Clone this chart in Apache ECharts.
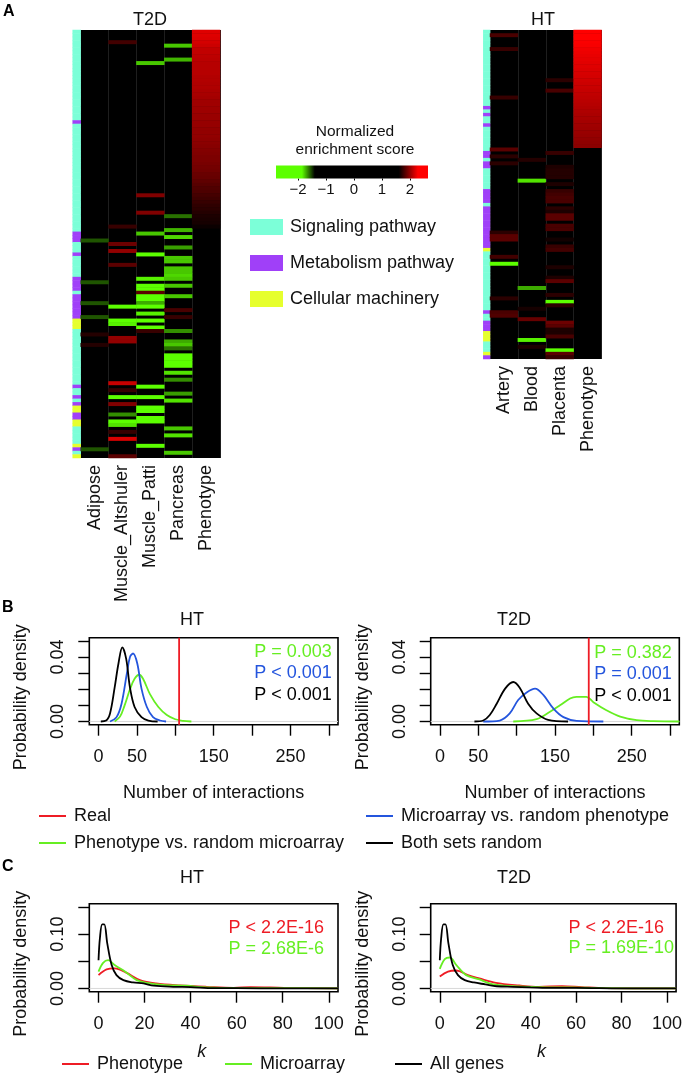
<!DOCTYPE html>
<html><head><meta charset="utf-8">
<style>html,body{margin:0;padding:0;background:#fff}#c{width:685px;height:1076px}</style>
<script src="https://cdn.jsdelivr.net/npm/echarts@6/dist/echarts.min.js"></script>
</head><body><div id="c"></div>
<script>
// ---------- Heatmap data: [row, normalized enrichment score] ----------
const t2dColumns = ['Adipose','Muscle_Altshuler','Muscle_Patti','Pancreas','Phenotype'];
const htColumns = ['Artery','Blood','Placenta','Phenotype'];
const t2dAdipose = [[60,-1.55],[72,-1.55],[78,-1.55],[82,-1.55],[87,1.7],[90,1.7],[120,-1.55]];
const t2dAltshuler = [[3,1.78],[56,1.75],[61,1.9],[63,2.0],[67,1.85],[79,-1.95],[83,-2.1],[84,-1.85],[88,2.0],[89,2.0],[101,2.15],[103,1.75],[105,-1.95],[107,1.95],[110,-1.65],[112,-1.95],[113,-1.8],[115,1.75],[117,2.2],[122,1.85]];
const t2dPatti = [[9,-1.75],[47,1.95],[52,1.95],[58,-1.75],[64,-1.9],[71,-1.85],[73,-2.2],[74,-2.2],[75,1.85],[76,-1.9],[77,-2.2],[78,-1.7],[79,-2.1],[81,-1.85],[83,-1.95],[85,-1.95],[86,1.75],[102,-1.9],[105,-1.95],[108,-2.25],[109,-2.25],[111,-2.2],[112,-2.2],[119,-1.9]];
const t2dPancreas = [[4,-1.75],[8,-1.72],[53,-1.6],[57,-1.72],[59,-1.78],[62,-1.68],[65,-1.75],[66,-1.75],[68,-1.75],[69,-1.75],[70,-1.78],[71,-1.75],[73,-1.75],[76,-1.75],[80,1.8],[82,1.75],[86,-1.65],[89,-1.7],[90,-1.75],[91,-1.6],[93,-2.0],[94,-2.2],[95,-2.2],[96,-2.2],[98,-1.8],[100,-1.65],[104,-1.68],[106,-1.8],[114,-1.75],[116,-1.8],[121,-1.75]];
const t2dPhenotype = [2.21,2.21,2.2,2.18,2.16,2.13,2.13,2.12,2.11,2.1,2.1,2.1,2.1,2.09,2.09,2.08,2.08,2.07,2.06,2.05,2.04,2.04,2.03,2.03,2.02,2.02,2.01,2.01,2.0,2.0,2.0,1.99,1.98,1.97,1.96,1.95,1.94,1.94,1.93,1.92,1.91,1.89,1.88,1.86,1.84,1.82,1.81,1.79,1.77,1.75,1.73,1.72,1.7,1.68,1.67,1.66,1.63];
const htArtery = [[1,1.8],[5,1.75],[19,1.75],[34,1.85],[36,1.72],[38,1.72],[58,1.72],[59,1.85],[60,1.85],[65,1.78],[67,-2.05],[77,1.72],[81,1.8],[82,1.82]];
const htBlood = [[37,1.7],[43,-1.8],[74,-1.7],[80,1.66],[83,1.88],[89,-1.85],[91,1.68]];
const htPlacenta = [[14,1.72],[17,1.8],[35,1.75],[39,1.68],[40,1.7],[41,1.7],[42,1.7],[44,1.68],[46,1.75],[47,1.78],[48,1.8],[49,1.8],[51,1.72],[52,1.68],[53,1.85],[54,1.85],[56,1.8],[57,1.8],[60,1.65],[62,1.75],[63,1.78],[68,1.68],[71,1.68],[72,1.85],[76,1.72],[78,-2.1],[79,1.72],[84,1.9],[85,1.85],[86,1.68],[87,1.68],[88,1.8],[92,-2.05],[93,1.85],[94,1.75]];
const htPhenotype = [2.3,2.3,2.3,2.29,2.28,2.26,2.25,2.24,2.23,2.22,2.21,2.2,2.19,2.18,2.17,2.16,2.15,2.14,2.13,2.12,2.11,2.1,2.09,2.08,2.07,2.06,2.05,2.04,2.03,2.02,2.01,2.0,1.99,1.98];
// Row classes as [class, number of rows]: 0 signaling, 1 metabolism, 2 cellular machinery
const t2dClassRuns = [[0,26],[1,1],[0,31],[1,3],[0,3],[1,1],[0,6],[1,4],[0,1],[1,7],[2,3],[0,16],[1,1],[0,2],[1,1],[0,1],[1,1],[2,2],[1,2],[2,2],[0,5],[2,1],[1,1],[0,1],[2,1]];
const htClassRuns = [[0,22],[1,1],[0,1],[1,1],[0,2],[1,1],[0,7],[1,2],[0,1],[1,2],[0,6],[1,4],[0,1],[1,12],[2,1],[0,17],[1,1],[0,2],[1,3],[2,3],[0,3],[2,1],[1,1]];
const t2dRowCount = 123, htRowCount = 95;
const classNames = ['Signaling pathway','Metabolism pathway','Cellular machinery'];
const scaleTicks = [-2,-1,0,1,2];

// ---------- Panel B: [interactions, density] ----------
const bHtBlack = [[3,0],[10,.0006],[15,.005],[21,.021],[26,.036],[31,.046],[36,.039],[41,.021],[47,.009],[56,.0027],[65,.0006],[77,0]];
const bHtBlue = [[15,0],[23.5,.0027],[30,.011],[37,.03],[41,.04],[45,.0422],[50.5,.036],[56,.0204],[63,.009],[71,.0027],[80,.0006],[88,0]];
const bHtGreen = [[21,0],[28,.003],[34,.01],[41,.02],[47,.0265],[53,.029],[58,.0265],[67,.017],[78,.009],[89,.004],[100,.0014],[110,.0004],[121,0]];
const bHtReal = 105;
const bT2dBlack = [[45,0],[56.5,.0006],[65,.004],[74,.011],[85,.0204],[95.6,.0245],[104,.021],[115,.011],[126,.005],[141,.001],[167,0]];
const bT2dBlue = [[56.5,0],[78,.0006],[91,.005],[102,.0133],[113,.018],[124,.0204],[135,.0163],[148,.008],[161,.0027],[178,.0004],[213,0]];
const bT2dGreen = [[95.6,0],[126,.0014],[143.5,.006],[156.5,.01],[169.6,.0143],[178,.0153],[191,.0153],[200,.012],[217,.007],[235,.003],[256.5,.0008],[278,.0002],[312,0]];
const bT2dReal = 194;
const bXTicks = [0,50,100,150,200,250,300], bXLabels = [0,50,150,250];
const bYTicks = [0,.01,.02,.03,.04,.05], bYLabels = [0,.04];

// ---------- Panel C: [k, density] ----------
const cHtBlack = [[0,.052],[.6,.092],[1.6,.118],[2.5,.118],[3.8,.083],[5.7,.043],[7.8,.0245],[10.8,.0153],[15,.011],[19.5,.0092],[24,.005],[32.5,.003],[40,.0025],[50,.0006],[60,.0006],[80.5,0],[104,0]];
const cHtGreen = [[0,.031],[2,.047],[4.2,.052],[7,.043],[11.5,.031],[16.6,.0153],[21,.0104],[28,.0067],[38,.005],[47,.0018],[60,.0006],[80,.0006],[104,0]];
const cHtRed = [[0,.0245],[3.5,.035],[7,.037],[12,.029],[18,.0153],[25,.0092],[35.5,.0055],[47,.003],[58.7,.0012],[66,.0025],[80.5,.0012],[104,0]];
const cT2dBlack = [[0,.052],[.6,.092],[1.6,.118],[2.5,.118],[3.8,.083],[5.7,.043],[8,.0245],[11,.0153],[15,.011],[20,.0075],[25,.004],[32,.003],[40,.002],[50,.001],[60,.001],[80,0],[104,0]];
const cT2dGreen = [[0,.036],[2.2,.054],[4.4,.057],[7.3,.043],[11.6,.0245],[17.4,.0166],[23,.008],[32,.0043],[43.6,.0025],[58,.0018],[72.7,.0006],[104,0]];
const cT2dRed = [[0,.022],[3.6,.031],[7.3,.033],[12.4,.0245],[17.4,.0184],[24.7,.0104],[35,.0055],[43.6,.003],[53.8,.0043],[62.5,.0025],[72.7,.0006],[104,0]];
const cXTicks = [0,20,40,60,80,100];
const cYTicks = [0,.05,.1,.15], cYLabels = [0,.1];

// ---------- Styles ----------
const FONT = '"Liberation Sans", Arial, sans-serif', INK = '#111';
const RED = '#EE1C25', GREEN = '#66EE22', BLUE = '#2455DD', BLACK = '#000';
const CLASS_COLORS = ['#7CFFD8','#A040F8','#E6FF2E'];
const GREEN_RGB = [92,255,0], RED_RGB = [255,0,0];
function rampColor(v){
  let c=[0,0,0];
  if(v<=-1.85) c=GREEN_RGB;
  else if(v<-1.4){const t=(-1.4-v)/.45;c=GREEN_RGB.map(x=>x*t);}
  else if(v>=2.3) c=RED_RGB;
  else if(v>1.6){const t=(v-1.6)/.7;c=RED_RGB.map(x=>x*t);}
  return 'rgb('+c.map(Math.round).join(',')+')';
}
const RAMP_MIN=-2.8, RAMP_MAX=2.8;
const ramp=[]; for(let i=0;i<=56;i++) ramp.push(rampColor(RAMP_MIN+i*.1));

const expandRuns = runs => runs.flatMap(([c,n])=>Array(n).fill(c));
const rowNames = n => Array.from({length:n},(_,i)=>String(i));
const grid=[], xAxis=[], yAxis=[], series=[], heatIdx=[], classIdx=[];

function addHeat(left,annW,colsW,height,columns,colData,runs,rowCount){
  // class strip
  let g=grid.length;
  grid.push({left:left,top:30,width:annW,height:height,show:false});
  xAxis.push({type:'category',gridIndex:g,data:['class'],show:false});
  yAxis.push({type:'category',gridIndex:g,data:rowNames(rowCount),inverse:true,show:false});
  classIdx.push(series.length);
  series.push({type:'heatmap',xAxisIndex:g,yAxisIndex:g,silent:true,progressive:0,
    data:expandRuns(runs).map((c,r)=>[0,r,c])});
  // matrix
  g=grid.length;
  grid.push({left:left+annW,top:30,width:colsW,height:height,show:true,backgroundColor:'#000',borderWidth:0});
  xAxis.push({type:'category',gridIndex:g,data:columns,axisLine:{show:false},axisTick:{show:false},
    splitLine:{show:true,interval:0,lineStyle:{color:'#1e1e1e',width:1}},
    axisLabel:{interval:0,rotate:90,fontFamily:FONT,fontSize:18,color:INK,margin:7}});
  yAxis.push({type:'category',gridIndex:g,data:rowNames(rowCount),inverse:true,show:false});
  const d=[];
  colData.forEach((col,ci)=>col.forEach(([r,v])=>d.push([ci,r,v])));
  heatIdx.push(series.length);
  series.push({type:'heatmap',xAxisIndex:g,yAxisIndex:g,silent:true,progressive:0,data:d});
}
const withRows = vals => vals.map((v,i)=>[i,v]);
addHeat(72.7,8,139.3,428,t2dColumns,[t2dAdipose,t2dAltshuler,t2dPatti,t2dPancreas,withRows(t2dPhenotype)],t2dClassRuns,t2dRowCount);
addHeat(483.3,6.7,111.5,329,htColumns,[htArtery,htBlood,htPlacenta,withRows(htPhenotype)],htClassRuns,htRowCount);

// colour scale
{
  const g=grid.length;
  grid.push({left:276,top:165.5,width:152,height:13,show:false});
  xAxis.push({type:'value',gridIndex:g,min:-2.786,max:2.643,splitLine:{show:false},axisLine:{show:false,onZero:false},
    axisTick:{show:true,customValues:scaleTicks,length:2,lineStyle:{color:'#000',width:1}},
    axisLabel:{customValues:scaleTicks,fontFamily:FONT,fontSize:15,color:INK,margin:4,formatter:v=>String(v).replace('-','\u2212')}});
  yAxis.push({type:'value',gridIndex:g,min:0,max:1,show:false});
  const x=v=>(v+2.786)/5.429;
  series.push({type:'custom',xAxisIndex:g,yAxisIndex:g,silent:true,data:[[-2.786,2.643]],
    renderItem:(p,api)=>{
      const a=api.coord([api.value(0),1]), b=api.coord([api.value(1),0]);
      return {type:'rect',shape:{x:a[0],y:a[1],width:b[0]-a[0],height:b[1]-a[1]},
        style:{fill:{type:'linear',x:0,y:0,x2:1,y2:0,colorStops:[
          {offset:0,color:'#5CFF00'},{offset:x(-1.86),color:'#5CFF00'},{offset:x(-1.4),color:'#000'},
          {offset:x(1.6),color:'#000'},{offset:x(2.28),color:'#FF0000'},{offset:1,color:'#FF0000'}]}}};
    },encode:{x:[0,1]}});
}

function addDensity(box,xCfg,yCfg,xName,namePad,lines){
  const g=grid.length;
  grid.push({left:box[0],top:box[1],width:box[2],height:box[3],show:true,borderColor:'#000',borderWidth:1.6,backgroundColor:'transparent'});
  xAxis.push({type:'value',gridIndex:g,min:xCfg.min,max:xCfg.max,splitLine:{show:false},axisLine:{show:false,onZero:false},
    axisTick:{show:true,customValues:xCfg.ticks,length:11,lineStyle:{color:'#000',width:1.4}},
    axisLabel:{customValues:xCfg.labels,fontFamily:FONT,fontSize:18,color:INK,margin:xCfg.margin,hideOverlap:false,showMinLabel:true,showMaxLabel:true},
    name:xName,nameLocation:'middle',nameGap:xCfg.nameGap,nameMoveOverlap:false,
    nameTextStyle:{fontFamily:FONT,fontSize:18,color:INK,fontStyle:xCfg.nameItalic?'italic':'normal',padding:namePad}});
  yAxis.push({type:'value',gridIndex:g,min:yCfg.min,max:yCfg.max,splitLine:{show:false},axisLine:{show:false,onZero:false},
    axisTick:{show:true,customValues:yCfg.ticks,length:11,lineStyle:{color:'#000',width:1.4}},
    axisLabel:{customValues:yCfg.labels,rotate:90,fontFamily:FONT,fontSize:18,color:INK,margin:22,formatter:v=>v.toFixed(2)},
    name:'Probability density',nameLocation:'middle',nameGap:59,nameMoveOverlap:false,
    nameTextStyle:{fontFamily:FONT,fontSize:18,color:INK,padding:yCfg.namePad}});
  // zero line
  series.push({type:'line',xAxisIndex:g,yAxisIndex:g,silent:true,symbol:'none',data:[[xCfg.min,0],[xCfg.max,0]],
    lineStyle:{color:'#d8d8d8',width:1},z:1});
  lines.forEach(l=>series.push({name:l.name,type:'line',xAxisIndex:g,yAxisIndex:g,silent:true,symbol:'none',
    smooth:l.straight?false:.35,data:l.data,color:l.color,lineStyle:{color:l.color,width:1.8},z:2}));
}
const bX={min:-12,max:312,ticks:bXTicks,labels:bXLabels,margin:23,nameGap:59,nameItalic:false};
const bY={min:-.002,max:.052,ticks:bYTicks,labels:bYLabels,namePad:[0,32,0,0]};
const cX={min:-4,max:104,ticks:cXTicks,labels:cXTicks,margin:23,nameGap:51,nameItalic:true};
const cY={min:-.006,max:.156,ticks:cYTicks,labels:cYLabels,namePad:[0,32,0,0]};
const B1='Real',B2='Phenotype vs. random microarray',B3='Microarray vs. random phenotype',B4='Both sets random';
const vert = x => [[x,-.002],[x,.052]];
addDensity([89.3,637.7,248.7,87],bX,bY,'Number of interactions',[0,0,0,0],[
  {name:B2,data:bHtGreen,color:GREEN},{name:B3,data:bHtBlue,color:BLUE},{name:B4,data:bHtBlack,color:BLACK},
  {name:B1,data:vert(bHtReal),color:RED,straight:true}]);
addDensity([430.7,637.7,248.6,87],bX,bY,'Number of interactions',[0,0,0,0],[
  {name:B2,data:bT2dGreen,color:GREEN},{name:B3,data:bT2dBlue,color:BLUE},{name:B4,data:bT2dBlack,color:BLACK},
  {name:B1,data:vert(bT2dReal),color:RED,straight:true}]);
addDensity([89.3,903.7,248.7,88],cX,cY,'k',[0,24,0,0],[
  {name:'Phenotype',data:cHtRed,color:RED},{name:'Microarray',data:cHtGreen,color:GREEN},{name:'All genes',data:cHtBlack,color:BLACK}]);
addDensity([430.7,903.7,248.6,88],cX,cY,'k',[0,24,0,0],[
  {name:'Phenotype',data:cT2dRed,color:RED},{name:'Microarray',data:cT2dGreen,color:GREEN},{name:'All genes',data:cT2dBlack,color:BLACK}]);

const lgd=(name,left,top)=>({data:[name],left,top,icon:'rect',itemWidth:27,itemHeight:2,itemGap:0,padding:0,
  selectedMode:false,textStyle:{fontFamily:FONT,fontSize:18,color:INK,padding:[0,0,0,3]}});
const ttl=(text,x,y)=>({text,left:x,top:y,textAlign:'center',padding:0,textStyle:{fontFamily:FONT,fontSize:18,fontWeight:'normal',color:INK}});
const txt=(text,x,y,color,align,extra)=>({type:'text',x,y,silent:true,style:Object.assign({text,fill:color||INK,font:'18px '+FONT,textAlign:align||'left',textVerticalAlign:'middle'},extra||{})});
const box=(x,y,w,h,fill)=>({type:'rect',silent:true,shape:{x,y,width:w,height:h},style:{fill}});

const graphic=[
  txt('A',3,12,'#000','left',{font:'bold 16px '+FONT}),
  txt('B',2,608,'#000','left',{font:'bold 16px '+FONT}),
  txt('C',2,867,'#000','left',{font:'bold 16px '+FONT}),
  txt('Normalized',355,132,INK,'center',{font:'15.5px '+FONT}),
  txt('enrichment score',355,150,INK,'center',{font:'15.5px '+FONT}),
  box(250,219,33,16,CLASS_COLORS[0]), txt(classNames[0],290,227),
  box(250,255,33,16,CLASS_COLORS[1]), txt(classNames[1],290,263),
  box(250,291,33,16,CLASS_COLORS[2]), txt(classNames[2],290,299),
  txt('P = 0.003',331.7,652,GREEN,'right'), txt('P < 0.001',331.7,673,BLUE,'right'), txt('P < 0.001',331.7,695,BLACK,'right'),
  txt('P = 0.382',671.7,653,GREEN,'right'), txt('P = 0.001',671.7,674,BLUE,'right'), txt('P < 0.001',671.7,696,BLACK,'right'),
  txt('P < 2.2E-16',324,928,RED,'right'), txt('P = 2.68E-6',324,949,GREEN,'right'),
  txt('P < 2.2E-16',664,928,RED,'right'), txt('P = 1.69E-10',674,948,GREEN,'right')
];

const chart=echarts.init(document.getElementById('c'),null,{renderer:'canvas'});
chart.setOption({
  animation:false,backgroundColor:'#fff',
  title:[ttl('T2D',150,11),ttl('HT',543,11),ttl('HT',192,611),ttl('T2D',514,611),ttl('HT',192,869),ttl('T2D',514,869)],
  legend:[lgd(B1,39,807),lgd(B2,39,834),lgd(B3,366,807),lgd(B4,366,834),
    lgd('Phenotype',62,1055),lgd('Microarray',225,1055),lgd('All genes',395,1055)],
  grid,xAxis,yAxis,series,graphic,
  visualMap:[
    {type:'continuous',show:false,seriesIndex:heatIdx,dimension:2,min:RAMP_MIN,max:RAMP_MAX,inRange:{color:ramp}},
    {type:'piecewise',show:false,seriesIndex:classIdx,dimension:2,
      pieces:CLASS_COLORS.map((color,i)=>({value:i,color}))}
  ]
});
</script></body></html>
